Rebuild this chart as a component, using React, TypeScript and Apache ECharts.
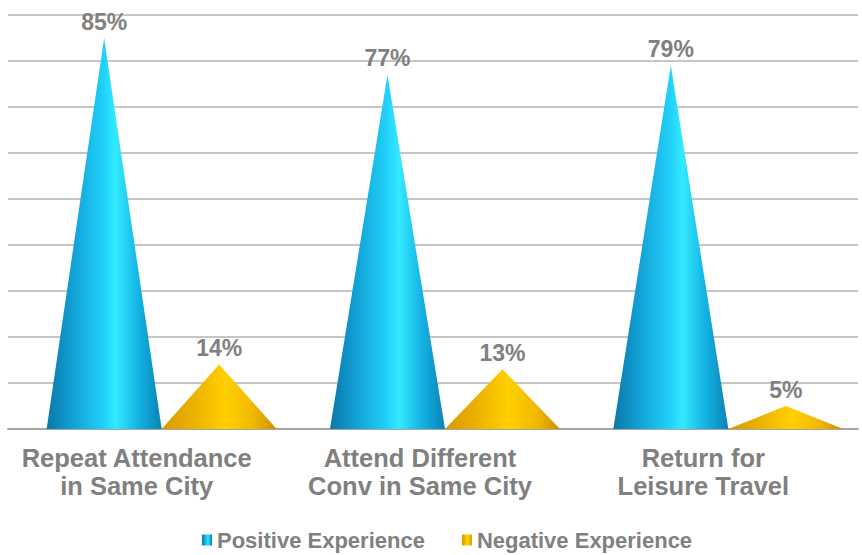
import React, { useEffect, useRef } from "react";
import * as echarts from "echarts";

const categories = [
  "Repeat Attendance\nin Same City",
  "Attend Different\nConv in Same City",
  "Return for\nLeisure Travel",
];
const seriesNames = ["Positive Experience", "Negative Experience"];
const positive = [85, 77, 79];
const negative = [14, 13, 5];
const yMax = 90;
const yInterval = 10;

const FONT = "'Liberation Sans', Arial, sans-serif";
const TEXT_GRAY = "#808080";

const blueGrad = () =>
  new echarts.graphic.LinearGradient(0, 0, 1, 0, [
    { offset: 0, color: "#0a78a8" },
    { offset: 0.22, color: "#119fd4" },
    { offset: 0.5, color: "#22d2fb" },
    { offset: 0.6, color: "#33eaff" },
    { offset: 0.8, color: "#14b2e4" },
    { offset: 1, color: "#0a82b4" },
  ]);
const goldGrad = () =>
  new echarts.graphic.LinearGradient(0, 0, 1, 0, [
    { offset: 0, color: "#d69a00" },
    { offset: 0.3, color: "#eeb400" },
    { offset: 0.55, color: "#ffd000" },
    { offset: 0.8, color: "#f0b800" },
    { offset: 1, color: "#c99000" },
  ]);

function makeRender(centerFrac: number, gradFn: () => any) {
  return (params: any, api: any) => {
    const idx = api.value(0);
    const val = api.value(1);
    const base = api.coord([idx, 0]);
    const top = api.coord([idx, val]);
    const band = api.size([1, 0])[0];
    const w = band * 0.406;
    const cx = base[0] + centerFrac * band;
    return {
      type: "group",
      children: [
        {
          type: "polygon",
          shape: {
            points: [
              [cx - w / 2, base[1]],
              [cx, top[1]],
              [cx + w / 2, base[1]],
            ],
          },
          style: { fill: gradFn() },
        },
        {
          type: "text",
          x: cx,
          y: top[1] - 5,
          style: {
            text: val + "%",
            align: "center",
            verticalAlign: "bottom",
            fill: TEXT_GRAY,
            font: `bold 23px ${FONT}`,
          },
        },
      ],
    };
  };
}

export default function App() {
  const ref = useRef<HTMLDivElement>(null);
  useEffect(() => {
    if (!ref.current) return;
    const chart = echarts.init(ref.current, undefined, { renderer: "svg" });
    chart.setOption({
      animation: false,
      backgroundColor: "#ffffff",
      grid: { left: 8, right: 4, top: 15, bottom: 126 },
      legend: {
        left: 197,
        top: 524,
        itemWidth: 10,
        itemHeight: 11,
        itemGap: 37,
        textStyle: {
          fontSize: 22,
          fontWeight: "bold",
          color: TEXT_GRAY,
          fontFamily: FONT,
        },
        data: [
          { name: seriesNames[0], icon: "rect", itemStyle: { color: blueGrad() } },
          { name: seriesNames[1], icon: "rect", itemStyle: { color: goldGrad() } },
        ],
      },
      xAxis: {
        type: "category",
        data: categories,
        axisTick: { show: false },
        axisLine: { show: true, lineStyle: { color: "#a6a6a6", width: 2 } },
        axisLabel: {
          interval: 0,
          margin: 15,
          fontSize: 25.5,
          fontWeight: "bold",
          lineHeight: 28,
          color: TEXT_GRAY,
          fontFamily: FONT,
          padding: [0, 26, 0, 0],
        },
      },
      yAxis: {
        type: "value",
        min: 0,
        max: yMax,
        interval: yInterval,
        axisLabel: { show: false },
        axisLine: { show: false },
        axisTick: { show: false },
        splitLine: { lineStyle: { color: "#c6c6c6", width: 2 } },
      },
      series: [
        {
          name: seriesNames[0],
          type: "custom",
          itemStyle: { color: "#1aa8dc" },
          data: positive.map((v, i) => [i, v]),
          renderItem: makeRender(-0.1606, blueGrad),
        },
        {
          name: seriesNames[1],
          type: "custom",
          itemStyle: { color: "#f0b800" },
          data: negative.map((v, i) => [i, v]),
          renderItem: makeRender(0.2453, goldGrad),
        },
      ],
    });
    return () => chart.dispose();
  }, []);
  return (
    <div
      ref={ref}
      style={{ position: "fixed", left: 0, top: 0, width: 862, height: 555 }}
    />
  );
}
